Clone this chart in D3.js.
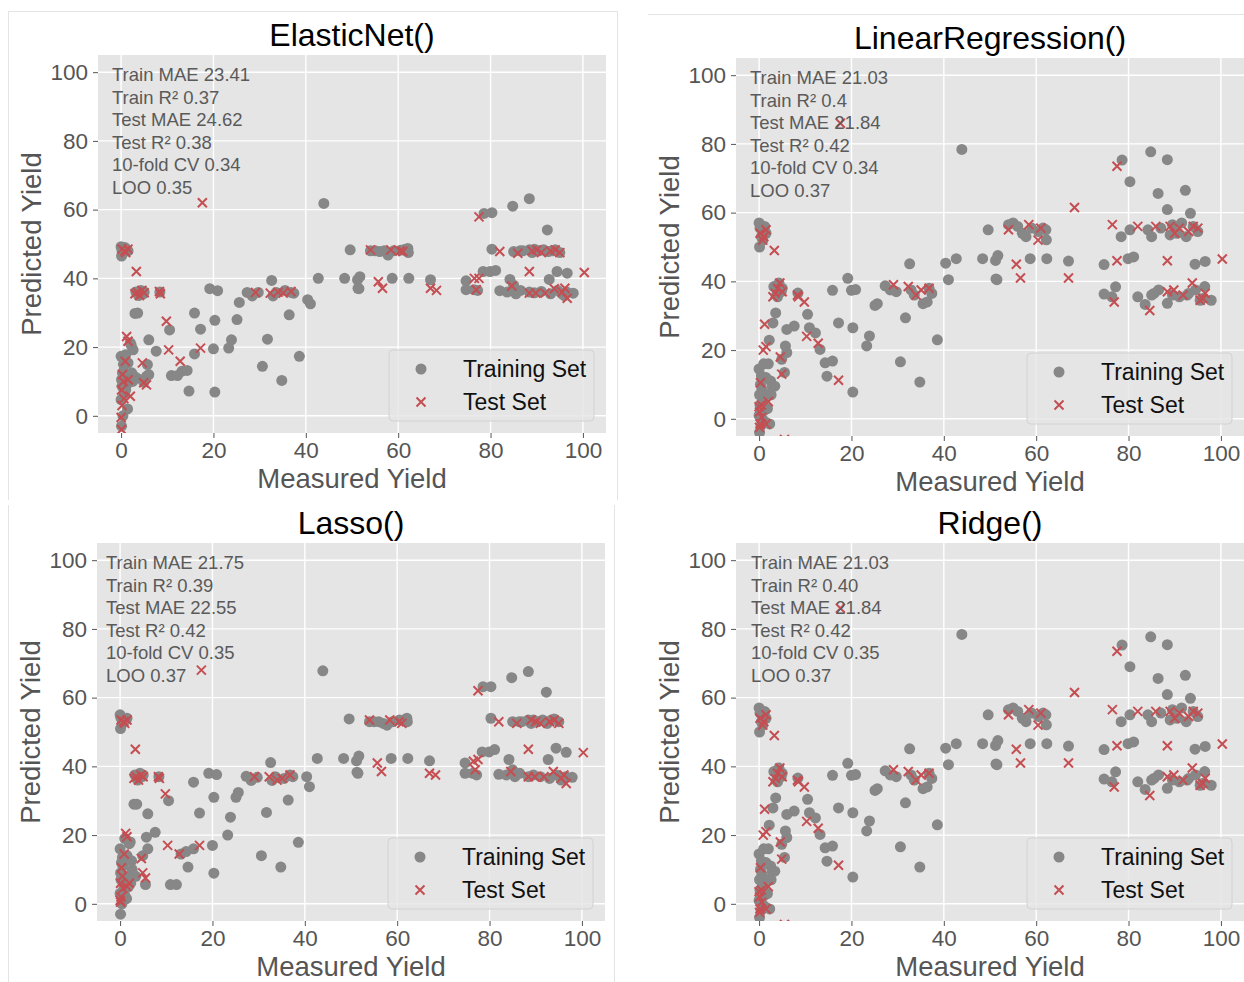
<!DOCTYPE html>
<html>
<head>
<meta charset="utf-8">
<script src="https://cdn.jsdelivr.net/npm/d3@7"></script>
<style>
	body { margin: 0; background: #fff; }
	svg text { font-family: "Liberation Sans", Arial, sans-serif; }
</style>
</head>
<body>
<div id="chart"></div>
<script>
// ---- data (measured yield is shared) ----
var trainMeasured = [
	0.0,0.2,0.1,0.5,1.2,0.8,1.5,
	0.0,0.3,0.1,0.2,0.0,0.4,0.1,1.0,1.5,0.6,0.9,1.2,0.7,1.8,2.0,2.6,1.4,2.3,0.5,2.5,1.0,2.8,
	3.0,3.6,2.2,3.4,
	3.2,3.8,4.3,4.8,4.0,5.0,
	4.9,5.7,6.0,6.0,5.5,7.6,8.4,10.5,10.9,12.2,13.2,14.3,14.7,15.9,15.9,17.2,19.2,20.9,20.3,20.0,
	20.3,23.3,23.9,25.1,25.6,27.3,28.4,29.7,30.6,31.7,32.6,32.9,33.6,34.8,36.4,36.8,37.4,35.5,38.6,40.4,
	41.0,42.7,43.9,48.4,49.6,51.2,51.3,51.7,51.5,54.0,55.0,56.0,57.0,57.8,58.7,59.0,60.5,61.5,62.1,62.2,
	62.3,67.0,74.7,74.7,76.4,77.2,78.6,80.3,80.3,78.4,79.9,81.1,82.0,84.2,84.8,85.0,86.4,88.4,88.4,92.3,
	93.4,92.7,94.4,96.6,97.9,87.0,89.5,90.5,91.5,92.5,94.0,95.0,89.0,83.6,85.5,86.5,88.4,89.5,91.0,93.0,
	94.5,95.5,96.5,96.0,85.0
];
var trainElastic = [
	49.2,48.0,46.5,47.5,48.5,49.0,48.0,
	17.3,12.5,10.5,8.6,4.7,0.0,-3.0,17.8,15.4,13.0,11.0,9.0,6.5,12.0,21.2,19.2,2.0,12.5,15.0,10.0,7.5,11.5,
	29.8,29.9,20.5,11.0,
	36.0,35.0,36.5,35.5,36.0,36.0,
	9.8,14.9,12.0,22.1,11.5,18.8,36.0,25.0,11.7,11.7,13.0,13.2,7.2,29.9,18.0,25.2,37.0,36.4,27.8,19.5,
	6.9,19.7,22.1,28.0,33.0,35.9,34.9,35.9,14.4,22.3,39.4,34.9,35.9,10.3,29.4,35.9,35.7,36.5,17.3,33.8,
	32.6,40.0,61.8,40.0,48.3,39.6,37.1,40.5,37.0,48.0,48.0,47.8,48.0,46.8,40.0,48.0,48.2,48.5,48.7,47.5,
	40.0,39.6,39.3,36.7,36.7,36.5,58.9,59.1,48.5,42.0,42.0,42.3,36.4,39.7,61.0,47.8,48.0,63.2,48.3,54.1,
	48.0,39.7,42.0,41.5,35.7,48.0,48.5,48.0,48.3,47.8,48.3,47.5,47.5,36.0,35.5,36.5,36.0,35.8,36.2,35.5,
	36.5,35.5,36.0,35.0,38.0
];
var trainLinear = [
	57.0,55.5,50.0,53.0,56.0,52.0,54.0,
	14.5,10.0,7.0,4.0,1.0,-2.0,-4.0,16.0,12.0,8.5,5.5,2.5,0.0,3.0,16.0,7.0,-1.0,-1.5,12.5,11.0,7.5,9.5,
	27.9,30.8,22.9,9.5,
	38.5,36.0,39.5,37.0,35.5,38.0,
	17.3,21.2,19.3,26.0,13.5,27.0,36.6,30.4,26.5,25.0,20.2,16.3,12.4,37.4,16.8,27.9,40.9,37.6,26.5,37.4,
	7.8,21.2,24.1,33.0,33.5,38.7,37.5,37.0,16.6,29.4,45.1,37.5,36.0,10.7,34.0,38.0,36.5,33.5,23.0,45.3,
	40.5,46.6,78.4,46.6,55.0,46.1,40.7,47.5,40.5,56.5,57.0,56.0,54.0,53.0,46.6,55.5,54.5,55.5,55.0,52.1,
	46.6,45.9,44.9,36.3,35.5,38.4,75.3,69.0,55.0,53.0,46.6,47.1,35.5,55.0,77.7,53.0,65.6,75.4,60.9,66.5,
	59.8,36.0,45.0,45.8,34.5,55.5,56.5,54.0,57.0,53.0,56.0,54.5,53.5,33.3,36.5,37.5,33.6,36.0,35.5,36.5,
	37.5,34.5,38.5,35.0,36.0
];
var trainLasso = [
	55.0,54.0,51.0,52.5,53.5,53.0,54.0,
	16.0,12.0,9.0,7.0,3.0,0.0,-3.0,19.0,14.0,11.0,8.0,6.0,4.0,5.0,17.5,10.0,1.5,6.0,13.5,12.5,2.5,8.5,
	29.0,29.0,18.0,8.0,
	37.5,36.0,38.0,37.0,36.5,37.5,
	14.0,19.4,16.0,26.2,5.6,20.8,37.0,30.0,5.6,5.6,14.5,15.2,10.7,35.4,16.0,26.4,38.0,37.6,31.0,17.0,
	8.9,20.0,25.2,31.0,32.4,37.1,35.9,36.8,14.0,26.6,41.1,35.9,37.0,10.7,30.2,37.5,37.0,36.5,17.9,37.0,
	34.1,42.3,67.8,42.3,53.8,41.6,38.3,43.0,38.0,53.0,53.0,53.0,52.5,52.0,42.3,53.0,53.5,53.5,54.0,53.0,
	42.3,41.6,41.0,38.0,38.0,37.5,63.2,63.2,54.0,44.2,44.2,44.9,37.7,42.0,65.8,53.0,53.0,67.6,53.5,61.6,
	53.5,42.0,45.3,44.1,36.8,53.0,53.5,53.0,53.5,52.5,53.8,53.0,52.5,37.5,37.0,38.0,37.0,37.5,37.0,36.5,
	37.5,36.0,37.0,36.5,39.0
];
var trainRidge = [
	57.0,55.5,50.0,53.0,56.0,52.0,54.0,
	14.5,10.0,7.0,4.0,1.0,-2.0,-4.0,16.0,12.0,8.5,5.5,2.5,0.0,3.0,16.0,7.0,-1.0,-1.5,12.5,11.0,7.5,9.5,
	27.9,30.8,22.9,9.5,
	38.5,36.0,39.5,37.0,35.5,38.0,
	17.3,21.2,19.3,26.0,13.5,27.0,36.6,30.4,26.5,25.0,20.2,16.3,12.4,37.4,16.8,27.9,40.9,37.6,26.5,37.4,
	7.8,21.2,24.1,33.0,33.5,38.7,37.5,37.0,16.6,29.4,45.1,37.5,36.0,10.7,34.0,38.0,36.5,33.5,23.0,45.3,
	40.5,46.6,78.4,46.6,55.0,46.1,40.7,47.5,40.5,56.5,57.0,56.0,54.0,53.0,46.6,55.5,54.5,55.5,55.0,52.1,
	46.6,45.9,44.9,36.3,35.5,38.4,75.3,69.0,55.0,53.0,46.6,47.1,35.5,55.0,77.7,53.0,65.6,75.4,60.9,66.5,
	59.8,36.0,45.0,45.8,34.5,55.5,56.5,54.0,57.0,53.0,56.0,54.5,53.5,33.3,36.5,37.5,33.6,36.0,35.5,36.5,
	37.5,34.5,38.5,35.0,36.0
];

var testMeasured = [
	0.2,0.8,1.5,1.0,3.3,3.5,4.0,4.5,3.0,5.0,8.3,8.5,9.8,10.3,12.8,17.2,17.6,1.2,1.5,0.9,
	4.6,4.9,2.0,0.3,0.5,0.1,0.6,0.2,0.0,0.1,1.5,5.5,29.1,32.3,35.1,36.8,34.0,54.0,58.4,60.4,
	61.0,55.7,56.6,67.0,68.3,76.9,77.5,77.5,76.5,82.0,84.6,85.9,88.4,88.4,89.0,90.0,91.0,93.0,94.0,95.0,
	89.8,91.8,93.8,96.1,96.6,100.3,95.5
];
var testElastic = [
	48.5,48.0,48.5,47.5,42.0,36.0,35.0,36.5,35.5,35.8,36.2,35.5,27.5,19.2,15.9,19.7,62.0,23.1,21.7,15.9,
	15.4,9.6,5.7,12.0,10.0,7.5,5.0,3.0,-0.5,-4.0,10.5,9.0,35.9,35.7,35.7,36.2,36.0,48.3,48.3,48.0,
	47.8,39.0,37.1,37.1,36.5,36.7,40.0,57.9,40.0,47.8,37.8,47.3,42.0,35.7,48.0,48.3,47.5,48.0,48.3,47.5,
	35.7,35.7,37.0,37.1,34.2,41.7,36.0
];
var testLinear = [
	54.0,52.0,55.0,53.0,49.0,36.5,38.0,39.5,35.5,37.0,36.0,35.5,34.0,24.0,22.0,11.2,86.0,27.5,21.0,20.0,
	18.0,13.0,5.0,10.5,4.0,2.0,0.5,-1.5,3.5,-2.5,-1.5,-6.0,39.0,38.5,37.5,38.0,36.0,55.0,56.5,52.0,
	55.5,45.0,41.0,41.0,61.5,34.0,46.0,73.5,56.5,56.0,31.5,56.0,46.0,37.0,56.0,54.0,55.5,54.5,56.0,55.5,
	37.5,36.0,39.5,35.0,36.5,46.5,34.5
];
var testLasso = [
	53.5,53.0,53.5,52.5,45.0,37.0,36.0,37.5,36.5,37.0,37.0,36.5,32.0,17.0,14.5,17.0,68.0,20.5,19.5,14.5,
	13.2,9.0,6.0,10.5,8.0,6.0,4.5,2.0,1.0,0.5,5.0,7.5,37.0,37.0,36.5,37.5,36.0,53.5,53.5,53.0,
	52.5,41.0,38.5,38.0,37.5,39.0,42.0,62.0,41.5,53.0,38.5,52.5,45.0,37.0,53.5,53.0,52.5,53.0,53.5,52.5,
	37.0,37.0,38.5,37.5,35.0,44.0,36.5
];
var testRidge = [
	54.0,52.0,55.0,53.0,49.0,36.5,38.0,39.5,35.5,37.0,36.0,35.5,34.0,24.0,22.0,11.2,86.0,27.5,21.0,20.0,
	18.0,13.0,5.0,10.5,4.0,2.0,0.5,-1.5,3.5,-2.5,-1.5,-6.0,39.0,38.5,37.5,38.0,36.0,55.0,56.5,52.0,
	55.5,45.0,41.0,41.0,61.5,34.0,46.0,73.5,56.5,56.0,31.5,56.0,46.0,37.0,56.0,54.0,55.5,54.5,56.0,55.5,
	37.5,36.0,39.5,35.0,36.5,46.5,34.5
];

var titles = ["ElasticNet()", "LinearRegression()", "Lasso()", "Ridge()"];
var statsElastic = ["Train MAE 23.41", "Train R\u00b2 0.37", "Test MAE 24.62", "Test R\u00b2 0.38", "10-fold CV 0.34", "LOO 0.35"];
var statsLinear  = ["Train MAE 21.03", "Train R\u00b2 0.4",  "Test MAE 21.84", "Test R\u00b2 0.42", "10-fold CV 0.34", "LOO 0.37"];
var statsLasso   = ["Train MAE 21.75", "Train R\u00b2 0.39", "Test MAE 22.55", "Test R\u00b2 0.42", "10-fold CV 0.35", "LOO 0.37"];
var statsRidge   = ["Train MAE 21.03", "Train R\u00b2 0.40", "Test MAE 21.84", "Test R\u00b2 0.42", "10-fold CV 0.35", "LOO 0.37"];
var tickValues = [0, 20, 40, 60, 80, 100];
var legendLabels = ["Training Set", "Test Set"];

// ---- look ----
var BG = "#E5E5E5", TRAIN_COLOR = "#878787", TEST_COLOR = "#C44E52", LABEL_COLOR = "#555555";

var svg = d3.select("#chart")
	.append("svg")
	.attr("width", 1244)
	.attr("height", 982);

// faint frames left over from the composited screenshots
var frames = svg.append("g").attr("fill", "none").attr("stroke", "#e4e4e4").attr("stroke-width", 1);
frames.append("path").attr("d", "M8.5,500 V11.5 H617.5 V500");
frames.append("path").attr("d", "M648,14.5 H1244");
frames.append("path").attr("d", "M8.5,505 V982 M614.5,505 V982");

var Panel = function(config){
	// Defaults
	this.width = 508;
	this.height = 378;
	this.textDx = 13;
	Object.keys(config).forEach(key => this[key] = config[key]);

	this.setupScales();
	this.drawBackground();
	this.drawAxes();
	this.plot();
	this.drawText();
	this.drawLegend();
}

Panel.prototype.setupScales = function(){
	this.x = d3.scaleLinear().domain([-5, 105]).range([0, this.width]);
	this.y = d3.scaleLinear().domain([-5, 105]).range([this.height, 0]);
	this.g = svg.append("g")
		.attr("transform", `translate(${this.left}, ${this.top})`);
}

Panel.prototype.drawBackground = function(){
	this.g.append("rect")
		.attr("width", this.width)
		.attr("height", this.height)
		.attr("fill", BG);

	// white grid
	this.g.append("g").selectAll("line.gx")
		.data(tickValues).enter()
		.append("line")
		.attr("x1", d => this.x(d)).attr("x2", d => this.x(d))
		.attr("y1", 0).attr("y2", this.height)
		.attr("stroke", "#fff").attr("stroke-width", 1.4);
	this.g.append("g").selectAll("line.gy")
		.data(tickValues).enter()
		.append("line")
		.attr("y1", d => this.y(d)).attr("y2", d => this.y(d))
		.attr("x1", 0).attr("x2", this.width)
		.attr("stroke", "#fff").attr("stroke-width", 1.4);

	// clip for markers
	this.clipId = "clip" + this.id;
	this.g.append("clipPath").attr("id", this.clipId)
		.append("rect").attr("width", this.width).attr("height", this.height);
}

Panel.prototype.drawAxes = function(){
	let xAxis = d3.axisBottom(this.x).tickValues(tickValues).tickSize(5).tickPadding(4);
	let yAxis = d3.axisLeft(this.y).tickValues(tickValues).tickSize(5).tickPadding(5);

	let xg = this.g.append("g")
		.attr("transform", `translate(0, ${this.height})`)
		.call(xAxis);
	let yg = this.g.append("g").call(yAxis);

	[xg, yg].forEach(a => {
		a.select(".domain").remove();
		a.selectAll("line").attr("stroke", LABEL_COLOR);
		a.selectAll("text")
			.attr("fill", LABEL_COLOR)
			.style("font-size", "22.5px");
	});

	// axis labels
	this.g.append("text")
		.attr("x", this.width / 2)
		.attr("y", this.height + 55)
		.attr("text-anchor", "middle")
		.attr("fill", LABEL_COLOR)
		.style("font-size", "27.5px")
		.text("Measured Yield");

	this.g.append("text")
		.attr("transform", `translate(-57, ${this.height / 2}) rotate(-90)`)
		.attr("text-anchor", "middle")
		.attr("fill", LABEL_COLOR)
		.style("font-size", "27.5px")
		.text("Predicted Yield");

	// title
	this.g.append("text")
		.attr("x", this.width / 2)
		.attr("y", -9)
		.attr("text-anchor", "middle")
		.attr("fill", "#000")
		.style("font-size", "32px")
		.text(this.title);
}

Panel.prototype.plot = function(){
	let marks = this.g.append("g").attr("clip-path", `url(#${this.clipId})`);

	let train = trainMeasured.map((m, i) => ({m: m, p: this.trainPred[i]}));
	let test = testMeasured.map((m, i) => ({m: m, p: this.testPred[i]}));

	marks.selectAll(".train")
		.data(train).enter()
		.append("circle")
		.attr("class", "train")
		.attr("cx", d => this.x(d.m))
		.attr("cy", d => this.y(d.p))
		.attr("r", 5.5)
		.attr("fill", TRAIN_COLOR);

	marks.selectAll(".test")
		.data(test).enter()
		.append("path")
		.attr("class", "test")
		.attr("transform", d => `translate(${this.x(d.m)}, ${this.y(d.p)})`)
		.attr("d", "M-4.5,-4.5L4.5,4.5M-4.5,4.5L4.5,-4.5")
		.attr("stroke", TEST_COLOR)
		.attr("stroke-width", 2)
		.attr("fill", "none");
}

Panel.prototype.drawText = function(){
	this.g.append("g").selectAll("text")
		.data(this.stats).enter()
		.append("text")
		.attr("x", this.textDx)
		.attr("y", (d, i) => 26 + i * 22.6)
		.attr("fill", "#5a5a5a")
		.style("font-size", "18.5px")
		.text(d => d);
}

Panel.prototype.drawLegend = function(){
	let w = 205, h = 71;
	let lg = this.g.append("g")
		.attr("transform", `translate(${this.width - 12 - w}, ${this.height - 12 - h})`);

	lg.append("rect")
		.attr("width", w).attr("height", h)
		.attr("rx", 4)
		.attr("fill", BG).attr("fill-opacity", 0.8)
		.attr("stroke", "#d2d2d2");

	lg.append("circle")
		.attr("cx", 32).attr("cy", 19).attr("r", 5.5)
		.attr("fill", TRAIN_COLOR);
	lg.append("path")
		.attr("transform", "translate(32, 52)")
		.attr("d", "M-4.5,-4.5L4.5,4.5M-4.5,4.5L4.5,-4.5")
		.attr("stroke", TEST_COLOR).attr("stroke-width", 2);

	lg.selectAll("text.lab")
		.data(legendLabels).enter()
		.append("text")
		.attr("x", 74)
		.attr("y", (d, i) => 19 + i * 33)
		.attr("dy", "0.35em")
		.attr("fill", "#111")
		.style("font-size", "23px")
		.text(d => d);
}

new Panel({id: 0, title: titles[0], left: 98, top: 55, trainPred: trainElastic, testPred: testElastic, stats: statsElastic, textDx: 14});
new Panel({id: 1, title: titles[1], left: 736, top: 58, trainPred: trainLinear, testPred: testLinear, stats: statsLinear, textDx: 14});
new Panel({id: 2, title: titles[2], left: 97, top: 543, trainPred: trainLasso, testPred: testLasso, stats: statsLasso, textDx: 9});
new Panel({id: 3, title: titles[3], left: 736, top: 543, trainPred: trainRidge, testPred: testRidge, stats: statsRidge, textDx: 15});
</script>
</body>
</html>
